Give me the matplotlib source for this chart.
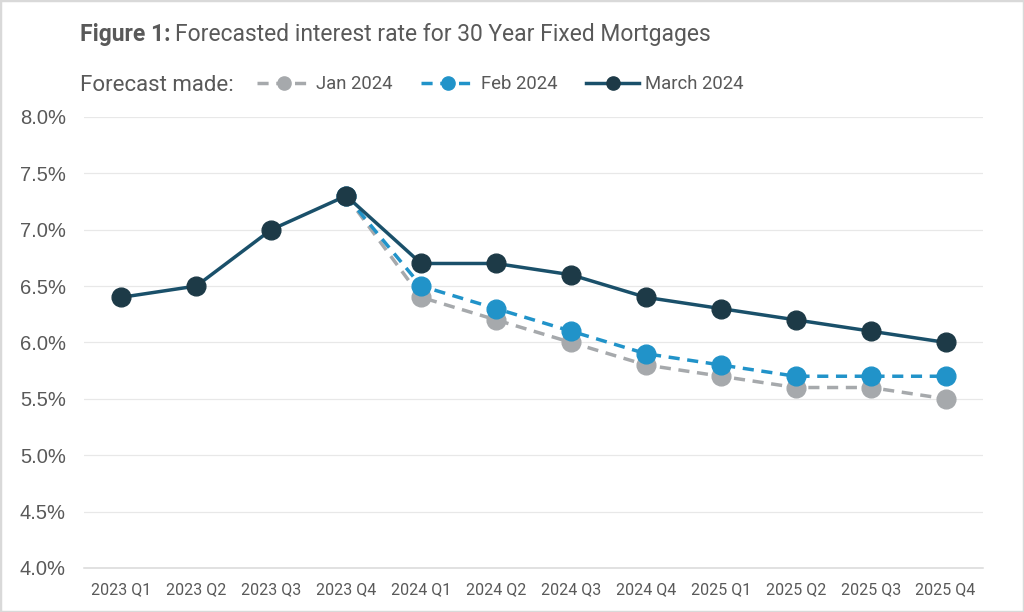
import matplotlib.pyplot as plt
from matplotlib.lines import Line2D
from matplotlib.patches import Rectangle

quarters = ["2023 Q1", "2023 Q2", "2023 Q3", "2023 Q4", "2024 Q1", "2024 Q2",
            "2024 Q3", "2024 Q4", "2025 Q1", "2025 Q2", "2025 Q3", "2025 Q4"]
march_2024 = [6.4, 6.5, 7.0, 7.3, 6.7, 6.7, 6.6, 6.4, 6.3, 6.2, 6.1, 6.0]
# Jan and Feb forecasts start at 2023 Q4
feb_2024 = [7.3, 6.5, 6.3, 6.1, 5.9, 5.8, 5.7, 5.7, 5.7]
jan_2024 = [7.3, 6.4, 6.2, 6.0, 5.8, 5.7, 5.6, 5.6, 5.5]
yticks = [4.0, 4.5, 5.0, 5.5, 6.0, 6.5, 7.0, 7.5, 8.0]

plt.rcParams['font.family'] = ['Roboto', 'DejaVu Sans']
txt = '#595959'
c_jan, c_feb = '#a6a9ac', '#2193c9'
c_mar_line, c_mar_mk = '#1a506a', '#1d3a47'
dash = (0, (3.2, 2.2))

fig = plt.figure(figsize=(10.24, 6.12), dpi=100)
ax = fig.add_axes([0.082, 0.072, 0.878, 0.737])

x = list(range(len(quarters)))
xf = x[3:]
ax.plot(xf, jan_2024, color=c_jan, lw=2.5, ls=dash, marker='o',
        ms=13.5, mfc=c_jan, mec=c_jan, zorder=2)
ax.plot(xf, feb_2024, color=c_feb, lw=2.5, ls=dash, marker='o',
        ms=13.5, mfc=c_feb, mec=c_feb, zorder=3)
ax.plot(x, march_2024, color=c_mar_line, lw=2.5, marker='o', ms=13.5,
        mfc=c_mar_mk, mec=c_mar_mk, zorder=4)

ax.set_xlim(-0.5, len(quarters) - 0.5)
ax.set_ylim(4.0, 8.0)
ax.set_yticks(yticks)
ax.set_yticklabels([f"{v:.1f}%" for v in yticks], fontsize=14.5, color=txt,
                   family=['Liberation Sans', 'DejaVu Sans'])
ax.set_xticks(x)
ax.set_xticklabels(quarters, fontsize=11.5, color=txt)
ax.tick_params(axis='x', length=0, pad=10)
ax.tick_params(axis='y', length=0, pad=13)
ax.grid(axis='y', color='#e8e8e8', lw=0.9)
ax.set_axisbelow(True)
for s in ['top', 'right', 'left']:
    ax.spines[s].set_visible(False)
ax.spines['bottom'].set_color('#d9d9d9')
ax.spines['bottom'].set_linewidth(1.1)

t1 = fig.text(0.078, 0.944, "Figure 1:", fontsize=16.5, fontweight='bold',
              color=txt, va='center')
fig.canvas.draw()
bb = t1.get_window_extent()
fig.text((bb.x1 + 5) / fig.bbox.width, 0.944,
         "Forecasted interest rate for 30 Year Fixed Mortgages",
         fontsize=16.5, color=txt, va='center')
fig.text(0.078, 0.860, "Forecast made:", fontsize=16, color=txt, va='center')

handles = [
    Line2D([], [], color=c_jan, lw=2.5, ls=dash, marker='o', ms=9.5,
           mfc=c_jan, mec=c_jan),
    Line2D([], [], color=c_feb, lw=2.5, ls=dash, marker='o', ms=9.5,
           mfc=c_feb, mec=c_feb),
    Line2D([], [], color=c_mar_line, lw=2.5, marker='o', ms=9.5,
           mfc=c_mar_mk, mec=c_mar_mk),
]
leg = fig.legend(handles, ["Jan 2024", "Feb 2024", "March 2024"], ncol=3,
                 loc='center left', bbox_to_anchor=(0.244, 0.862), frameon=False,
                 fontsize=13.3, handlelength=2.9, handletextpad=0.3,
                 columnspacing=1.55, borderaxespad=0)
for t in leg.get_texts():
    t.set_color(txt)

fig.patches.append(Rectangle((0, 0), 1, 1, transform=fig.transFigure,
                             fill=False, edgecolor='#d9d9d9', lw=2.5))

fig.savefig("out.png", dpi=100)
